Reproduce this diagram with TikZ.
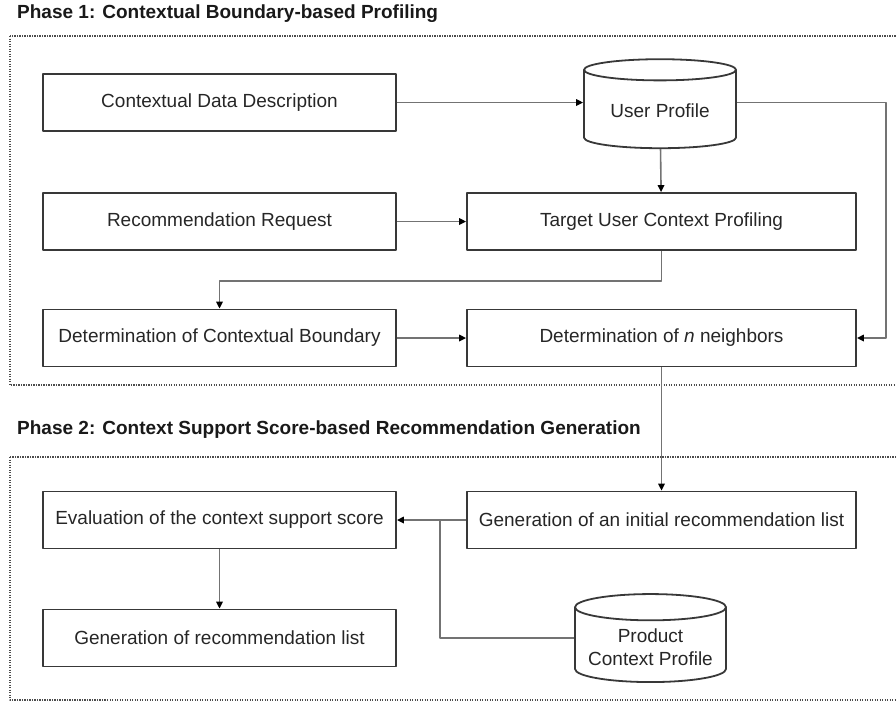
\documentclass[tikz,border=0pt]{standalone}
\usepackage{fontspec}
\setmainfont{Liberation Sans}
\usetikzlibrary{shapes.geometric,arrows.meta}
\begin{document}
\begin{tikzpicture}[line join=round,x=1pt,y=-1pt,
    font=\fontsize{19}{22.5}\selectfont,
    box/.style={draw=black!78,line width=1.8pt,text=black!85,minimum height=57pt},
    lbox/.style={box,minimum width=353pt},
    rbox/.style={box,minimum width=389pt},
    db/.style={cylinder,shape border rotate=90,draw=black!78,line width=1.8pt,aspect=0.2,
        text=black!85,align=center,minimum width=152pt,minimum height=89pt},
    line/.style={draw=black!55,line width=1.6pt},
    conn/.style={line,-{Triangle[length=7pt,width=6.5pt,color=black]}},
    frame/.style={draw=black!70,line width=1.8pt,dash pattern=on 1.2pt off 1.3pt},
    phase/.style={anchor=west,inner sep=0pt,font=\fontsize{19}{22.5}\selectfont\bfseries,text=black!90}]
    \useasboundingbox (0,0) rectangle (896,705);
    \clip (0,0) rectangle (896,705);
    \node[phase] (ph1) at (17,14) {Phase 1: Contextual Boundary-based Profiling};
    \node[phase] (ph2) at (17,430) {Phase 2: Context Support Score-based Recommendation Generation};
    \draw[frame] (10,36) rectangle (905,385);
    \draw[frame] (10,457) rectangle (905,700);
    \node[lbox] (cdd) at (219.5,102.5) {Contextual Data Description};
    \node[lbox] (rr) at (219.5,221.5) {Recommendation Request};
    \node[lbox] (dcb) at (219.5,338) {Determination of Contextual Boundary};
    \node[db] (up) at (660,111) {User Profile};
    \node[rbox] (tucp) at (661.5,221.5) {Target User Context Profiling};
    \node[rbox] (dn) at (661.5,338) {Determination of \textit{n} neighbors};
    \node[lbox] (ecs) at (219.5,520) {Evaluation of the context support score};
    \node[lbox] (grl) at (219.5,638) {Generation of recommendation list};
    \node[rbox] (gir) at (661.5,520) {Generation of an initial recommendation list};
    \node[db,minimum width=151pt,minimum height=88pt] (pcp) at (650.5,647) {Product\\Context Profile};
    \draw[conn] (cdd.east) -- (cdd.east -| up.west);
    \draw[conn] (up) -- (tucp);
    \draw[conn] (up.east |- cdd.east) -- ++(149,0) |- (dn.east);
    \draw[conn] (rr) -- (tucp);
    \draw[conn] (tucp.south) -- ++(0,30) -| (dcb.north);
    \draw[conn] (dcb) -- (dn);
    \draw[conn] (dn) -- (gir);
    \draw[conn] (gir) -- (ecs);
    \draw[line] ([yshift=9pt]pcp.west) -| ([xshift=-26pt]gir.west);
    \draw[conn] (ecs) -- (grl);
\end{tikzpicture}
\end{document}
